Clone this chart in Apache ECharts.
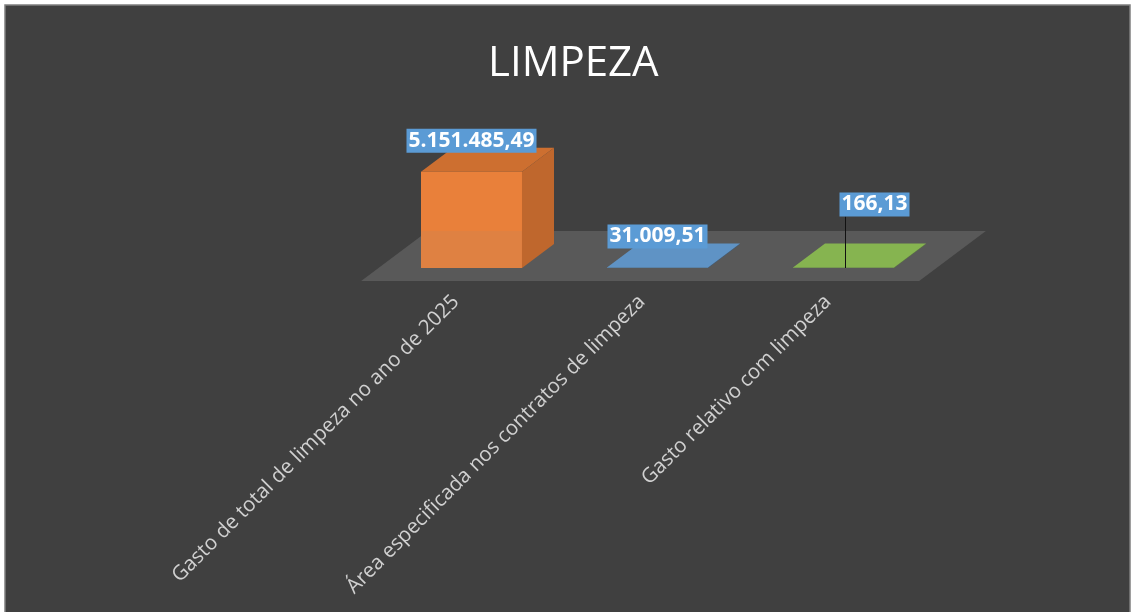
<!DOCTYPE html>
<html>
<head>
<meta charset="utf-8">
<title>LIMPEZA</title>
<script src="https://cdn.jsdelivr.net/npm/echarts@6/dist/echarts.min.js"></script>
<style>
  html, body { margin: 0; padding: 0; background: #fff; }
  #chart { width: 1131px; height: 612px; }
</style>
</head>
<body>
<div id="chart"></div>
<script>
// dados
const categories = [
  'Gasto de total de limpeza no ano de 2025',
  'Área especificada nos contratos de limpeza',
  'Gasto relativo com limpeza'
]
const values = [5151485.49, 31009.51, 166.13]

// cores de cada barra (frente, topo, lateral)
const barColors = [
  { front: '#e9803a', top: '#cd6f30', side: '#bf672d' },
  { front: '#5b8fc2', top: '#5f93c5', side: '#2f5f8f' },
  { front: '#7fae4c', top: '#86b450', side: '#5d8a33' }
]
// rótulo do último valor foi arrastado no Excel, com linha guia
const labelShift = { 2: [31, -32] }

const FONT = '"Open Sans", "Noto Sans", sans-serif'

// formato pt-BR: 5.151.485,49
const fmt = (v) => {
  const [int, dec] = Number(v).toFixed(2).split('.')
  return int.replace(/\B(?=(\d{3})+(?!\d))/g, '.') + ',' + dec
}

const chart = echarts.init(document.getElementById('chart'))

// direção de profundidade do "3D"
const depth = (w) => [w * 0.317, -w * 0.238]
// piso: da frente (-13/24) até o fundo (37/24) da profundidade da barra
const FLOOR_FRONT = -13 / 24
const FLOOR_BACK = 37 / 24

const renderFloor = (params, api) => {
  const band = api.size([1, 0])[0]
  const w = band * 0.543
  const [ddx, ddy] = depth(w)
  const left = api.coord([0, 0])[0] - band / 2
  const right = api.coord([categories.length - 1, 0])[0] + band / 2
  const y = api.coord([0, 0])[1]
  const f = FLOOR_FRONT, b = FLOOR_BACK
  return {
    type: 'polygon',
    shape: {
      points: [
        [left + ddx * f, y + ddy * f],
        [right + ddx * f, y + ddy * f],
        [right + ddx * b, y + ddy * b],
        [left + ddx * b, y + ddy * b]
      ]
    },
    style: { fill: '#595959' }
  }
}

const renderBar = (params, api) => {
  const i = api.value(0)
  const v = api.value(1)
  const base = api.coord([i, 0])
  const top = api.coord([i, v])
  const band = api.size([1, 0])[0]
  const w = band * 0.543
  const [dx, dy] = depth(w)
  const x0 = base[0] - w / 2
  const x1 = base[0] + w / 2
  const y0 = base[1]
  const y1 = Math.min(top[1], y0 - 0.5)
  const c = barColors[i]
  const shift = labelShift[i] || [0, 0]
  const lx = base[0] + shift[0]
  const ly = y1 - 31 + shift[1]

  const children = [
    {
      type: 'polygon',
      shape: { points: [[x1, y0], [x1 + dx, y0 + dy], [x1 + dx, y1 + dy], [x1, y1]] },
      style: { fill: c.side }
    },
    {
      type: 'polygon',
      shape: { points: [[x0, y1], [x1, y1], [x1 + dx, y1 + dy], [x0 + dx, y1 + dy]] },
      style: { fill: c.top }
    },
    {
      type: 'rect',
      shape: { x: x0, y: y1, width: w, height: y0 - y1 },
      style: { fill: c.front }
    }
  ]
  // o piso aparece levemente por cima da barra alta (transparência do Excel)
  const floorBackY = y0 + dy * FLOOR_BACK
  if (y1 < floorBackY) {
    children.push({
      type: 'rect',
      shape: { x: x0, y: floorBackY, width: w, height: y0 - floorBackY },
      style: { fill: 'rgba(140,140,140,0.10)' }
    })
  }
  if (labelShift[i]) {
    children.push({
      type: 'line',
      shape: { x1: lx - 29, y1: ly + 12, x2: lx - 29, y2: y0 },
      style: { stroke: '#111', lineWidth: 1 }
    })
  }
  children.push({
    type: 'text',
    x: lx,
    y: ly,
    style: {
      text: fmt(v),
      fill: '#fff',
      font: 'bold 21px ' + FONT,
      align: 'center',
      verticalAlign: 'middle',
      backgroundColor: '#5b9bd5',
      padding: [2, 2, 1, 2]
    },
    z2: 10
  })
  return { type: 'group', children }
}

const option = {
  backgroundColor: '#fff',
  animation: false,
  title: {
    text: 'LIMPEZA',
    left: 483,
    top: 38,
    textStyle: { color: '#fff', fontSize: 42, fontWeight: 'normal', fontFamily: FONT }
  },
  graphic: [
    {
      type: 'rect',
      z: -10,
      shape: { x: 5, y: 5, width: 1125, height: 640 },
      style: { fill: '#404040', stroke: '#7f7f7f', lineWidth: 1.5 }
    }
  ],
  grid: { left: 378.5, right: 194.5, top: 156, bottom: 344 },
  xAxis: {
    type: 'category',
    data: categories,
    axisLine: { show: false },
    axisTick: { show: false },
    axisLabel: {
      rotate: 45,
      margin: 15,
      padding: [0, 22, 0, 0],
      color: '#d0d0d0',
      fontSize: 20.5,
      fontFamily: FONT,
      interval: 0
    }
  },
  yAxis: {
    type: 'value',
    min: 0,
    max: 6000000,
    show: false
  },
  series: [
    {
      name: 'piso',
      type: 'custom',
      silent: true,
      z: 1,
      data: [[0]],
      renderItem: renderFloor
    },
    {
      name: 'limpeza',
      type: 'custom',
      z: 2,
      data: values.map((v, i) => [i, v]),
      encode: { x: 0, y: 1 },
      renderItem: renderBar
    }
  ]
}

chart.setOption(option)
</script>
</body>
</html>
